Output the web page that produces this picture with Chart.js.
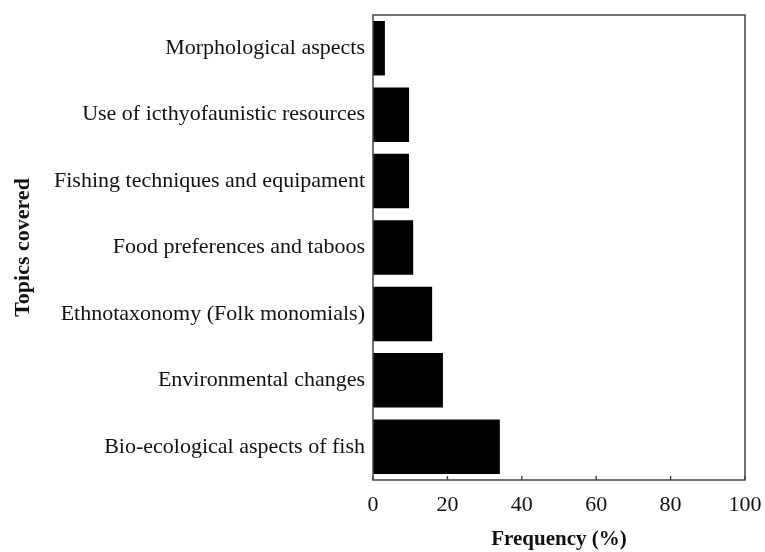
<!DOCTYPE html>
<html>
<head>
<meta charset="utf-8">
<script src="https://cdn.jsdelivr.net/npm/chart.js@4"></script>
<style>
  html, body { margin: 0; padding: 0; background: #fff; }
  #wrap { width: 765px; height: 552px; }
</style>
</head>
<body>
<div id="wrap"><canvas id="myChart" width="765" height="552"></canvas></div>
<script>
"use strict";

// data
const topics = [
  'Morphological aspects',
  'Use of icthyofaunistic resources',
  'Fishing techniques and equipament',
  'Food preferences and taboos',
  'Ethnotaxonomy (Folk monomials)',
  'Environmental changes',
  'Bio-ecological aspects of fish'
]
const frequency = [3.2, 9.7, 9.7, 10.8, 15.9, 18.8, 34.1]
const xTicks = [0, 20, 40, 60, 80, 100]

// frame round the plot + small inward ticks on the x axis
const framePlugin = {
  id: 'frame',
  afterDraw(chart) {
    const ctx = chart.ctx
    const a = chart.chartArea
    ctx.save()
    ctx.strokeStyle = '#444'
    ctx.lineWidth = 1.5
    ctx.strokeRect(a.left, a.top, a.right - a.left, a.bottom - a.top)
    const xs = chart.scales.x
    xTicks.forEach(v => {
      const px = xs.getPixelForValue(v)
      ctx.beginPath()
      ctx.moveTo(px, a.bottom)
      ctx.lineTo(px, a.bottom - 4)
      ctx.stroke()
    })
    ctx.restore()
  }
}

const config = {
  type: 'bar',
  data: {
    labels: topics,
    datasets: [{
      data: frequency,
      backgroundColor: '#000',
      borderWidth: 0,
      barPercentage: 0.82,
      categoryPercentage: 1
    }]
  },
  options: {
    indexAxis: 'y',
    responsive: false,
    animation: false,
    layout: { padding: { left: 10, top: 15, right: 20, bottom: 0 } },
    scales: {
      x: {
        min: 0,
        max: 100,
        afterBuildTicks: s => { s.ticks = xTicks.map(v => ({ value: v })) },
        afterFit: s => { s.height = 72; s.paddingLeft = 0; s.paddingRight = 0 },
        grid: { display: false, drawTicks: false },
        border: { display: false },
        ticks: {
          color: '#111',
          padding: 12,
          font: { family: 'Liberation Serif', size: 22 }
        },
        title: {
          display: true,
          text: 'Frequency (%)',
          color: '#111',
          padding: { top: 9, bottom: 0 },
          font: { family: 'Liberation Serif', size: 21, weight: 'bold' }
        }
      },
      y: {
        afterFit: s => { s.width = 363; s.paddingTop = 0; s.paddingBottom = 0 },
        grid: { display: false, drawTicks: false },
        border: { display: false },
        ticks: {
          color: '#111',
          padding: 8,
          font: { family: 'Liberation Serif', size: 22 }
        },
        title: {
          display: true,
          text: 'Topics covered',
          color: '#111',
          padding: { top: 0, bottom: 0 },
          font: { family: 'Liberation Serif', size: 22, weight: 'bold' }
        }
      }
    },
    plugins: {
      legend: { display: false },
      tooltip: { enabled: false }
    }
  },
  plugins: [framePlugin]
}

const my_chart = new Chart(document.getElementById('myChart'), config)
</script>
</body>
</html>
